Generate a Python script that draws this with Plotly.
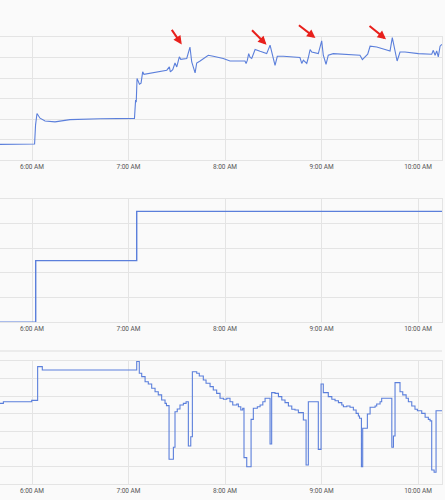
import datetime as dt
import plotly.graph_objects as go
from plotly.subplots import make_subplots

# minutes after 06:00, value
TOP_MIN = [-19.9, -7.5, 1.6, 2.2, 3.1, 5.0, 8.1, 14.3, 23.6, 42.3, 63.7, 64.4, 64.8, 65.3,
           66.8, 67.8, 68.8, 69.6, 76.5, 83.8, 85.4, 86.0, 87.5, 88.9, 90.0, 91.6, 92.5,
           96.2, 98.2, 99.3, 101.4, 102.4, 104.5, 109.6, 112.7, 118.9, 123.1, 132.4, 133.1,
           133.9, 134.7, 135.6, 136.6, 138.7, 141.8, 145.9, 148.0, 149.7, 151.1, 152.5,
           156.3, 166.6, 167.7, 168.7, 169.8, 170.8, 171.8, 172.9, 173.9, 178.0, 180.1,
           181.1, 182.8, 184.2, 187.3, 194.6, 203.9, 205.4, 207.1, 208.7, 210.2, 214.3,
           219.5, 222.6, 224.0, 225.7, 227.0, 228.8, 231.9, 240.2, 248.5, 249.5, 250.6,
           251.6, 252.6, 253.7, 254.8]
TOP_VAL = [7.6, 7.8, 7.8, 17.0, 22.7, 20.4, 19.0, 18.6, 19.7, 20.1, 20.3, 29.2, 28.2, 39.8,
           37.0, 37.5, 43.0, 41.8, 42.8, 43.8, 45.4, 43.0, 44.1, 47.3, 45.4, 50.3, 49.1,
           49.5, 55.1, 47.8, 42.5, 47.3, 48.3, 51.1, 50.6, 49.5, 48.3, 48.3, 47.1,
           48.7, 51.9, 50.0, 49.5, 53.9, 53.0, 51.9, 56.0, 50.3, 46.2, 50.6,
           50.6, 50.0, 47.1, 48.7, 47.8, 47.1, 50.0, 53.9, 52.7, 51.9, 58.1,
           51.1, 46.7, 51.1, 51.9, 51.6, 51.1, 49.0, 50.3, 51.6, 55.5, 55.1,
           53.9, 53.2, 59.7, 52.7, 48.3, 52.7, 52.7, 51.9, 51.6, 53.5, 51.1,
           53.2, 50.3, 55.5, 56.4]

MID_MIN = [-19.9, 2.3, 65.1, 255.0]
MID_VAL = [0, 50, 90, 90]

BOT_MIN = [-19.9, -17.8, -0.2, 3.5, 6.4, 65.1, 66.7, 68.2, 70.3, 72.3, 74.4, 76.5, 78.5,
           80.6, 82.7, 83.6, 85.2, 87.9, 88.9, 90.3, 92.0, 94.1, 95.8, 97.2, 98.7, 99.7,
           102.4, 104.0, 106.5, 108.2, 110.7, 112.7, 114.8, 116.9, 119.0, 121.1, 123.1,
           124.8, 127.3, 128.3, 129.8, 131.0, 131.8, 133.5, 136.2, 137.6, 140.1, 141.8,
           143.5, 144.9, 148.0, 149.0, 151.1, 153.2, 155.3, 157.3, 159.4, 161.5, 163.5,
           165.6, 168.7, 170.4, 171.8, 178.0, 179.7, 181.1, 184.2, 186.4, 188.4, 190.5,
           192.6, 193.6, 195.7, 197.7, 199.8, 201.5, 202.9, 203.6, 204.8, 205.6, 208.5,
           210.2, 213.3, 214.3, 216.4, 217.4, 223.7, 224.7, 225.7, 228.8, 230.5, 232.6,
           234.0, 236.1, 238.1, 239.6, 242.3, 244.4, 246.4, 247.5, 248.5, 250.0, 251.2,
           255.0]
BOT_VAL = [45.9, 46.8, 47.6, 66.8, 64.9, 69.8, 63.0, 61.1, 58.2, 56.9, 54.5, 52.5, 50.7,
           47.8, 45.9, 44.6, 14.1, 20.9, 41.1, 42.7, 45.0, 45.9, 46.8, 21.6, 26.9, 63.9,
           63.0, 61.5, 59.2, 57.3, 55.4, 53.5, 51.6, 48.8, 48.2, 48.8, 46.8,
           45.0, 45.5, 44.0, 42.1, 43.1, 15.0, 9.8, 36.8, 43.1, 44.0, 45.0,
           46.8, 48.8, 22.8, 52.0, 51.6, 49.7, 47.8, 46.3, 44.4, 42.5, 42.1,
           40.6, 36.4, 10.8, 46.8, 19.7, 56.9, 52.0, 49.7, 48.2, 47.4, 46.3,
           45.0, 44.0, 44.4, 43.7, 42.1, 40.2, 38.7, 37.4, 9.8, 31.7, 39.8,
           43.7, 44.4, 45.5, 46.8, 48.8, 20.9, 27.3, 57.7, 52.5, 50.7, 48.8,
           46.8, 44.4, 42.5, 41.7, 40.2, 38.0, 36.8, 35.9, 8.0, 6.7, 41.7,
           41.7]

# red arrows pointing at the peaks: (minutes, value, tail dx, tail dy)
ARROWS = [(93.1, 56.4, -11, -16), (145.8, 56.2, -16, -16),
          (176.2, 59.5, -18, -14), (220.1, 58.9, -18, -14.5)]

BASE = dt.datetime(2024, 1, 1, 6, 0)
LINE = "#5b7fdb"
GRID = "#e4e4e4"
BG = "#fafafa"


def to_time(mins):
    return [BASE + dt.timedelta(minutes=m) for m in mins]


fig = make_subplots(rows=3, cols=1)

fig.add_trace(go.Scatter(x=to_time(TOP_MIN), y=TOP_VAL, mode="lines",
                         line={"color": LINE, "width": 1.1}, showlegend=False), row=1, col=1)
fig.add_trace(go.Scatter(x=to_time(MID_MIN), y=MID_VAL, mode="lines", line_shape="hv",
                         line={"color": LINE, "width": 1.4}, showlegend=False), row=2, col=1)
fig.add_trace(go.Scatter(x=to_time(BOT_MIN), y=BOT_VAL, mode="lines", line_shape="hv",
                         line={"color": LINE, "width": 1.1}, showlegend=False), row=3, col=1)

for m, v, ax, ay in ARROWS:
    fig.add_annotation(x=BASE + dt.timedelta(minutes=m), y=v, xref="x", yref="y",
                       ax=ax, ay=ay, showarrow=True, arrowhead=2, arrowsize=0.85,
                       arrowwidth=2, arrowcolor="#e8201c", standoff=0, text="")

x_range = [BASE - dt.timedelta(minutes=19.9), BASE + dt.timedelta(minutes=254.9)]
domains = [[0.68, 0.926], [0.3554, 0.602], [0.032, 0.278]]
y_ranges = [[0, 60], [0, 100], [0, 70]]
y_dticks = [10, 20, 10]

for i in range(3):
    fig.update_xaxes(row=i + 1, col=1, range=x_range, domain=[0, 1], showgrid=True,
                     gridcolor=GRID, gridwidth=1, dtick=3600000, tick0=BASE,
                     tickformat="%-I:%M %p", tickfont={"size": 6.5, "color": "#555"},
                     showline=True, linecolor=GRID, mirror=True, ticks="",
                     zeroline=False, automargin=False)
    fig.update_yaxes(row=i + 1, col=1, domain=domains[i], range=y_ranges[i],
                     dtick=y_dticks[i], showgrid=True, gridcolor=GRID, gridwidth=1,
                     showticklabels=False, zeroline=False, side="right",
                     showline=True, linecolor=GRID, ticks="", automargin=False)

# header divider above the bottom panel
fig.add_shape(type="line", xref="paper", yref="paper", x0=0, x1=1,
              y0=1 - 351 / 500, y1=1 - 351 / 500, line={"color": "#ececec", "width": 2})

fig.update_layout(width=445, height=500, margin={"l": 0, "r": 3, "t": 0, "b": 0},
                  paper_bgcolor=BG, plot_bgcolor=BG,
                  font={"family": "Roboto, sans-serif"}, showlegend=False)

# the page body has a default margin; drop it so the figure sits at the corner
fig.write_html("out.html", config={"displayModeBar": False},
               post_script="document.body.style.margin='0';"
               "document.body.style.background='#fafafa';")
